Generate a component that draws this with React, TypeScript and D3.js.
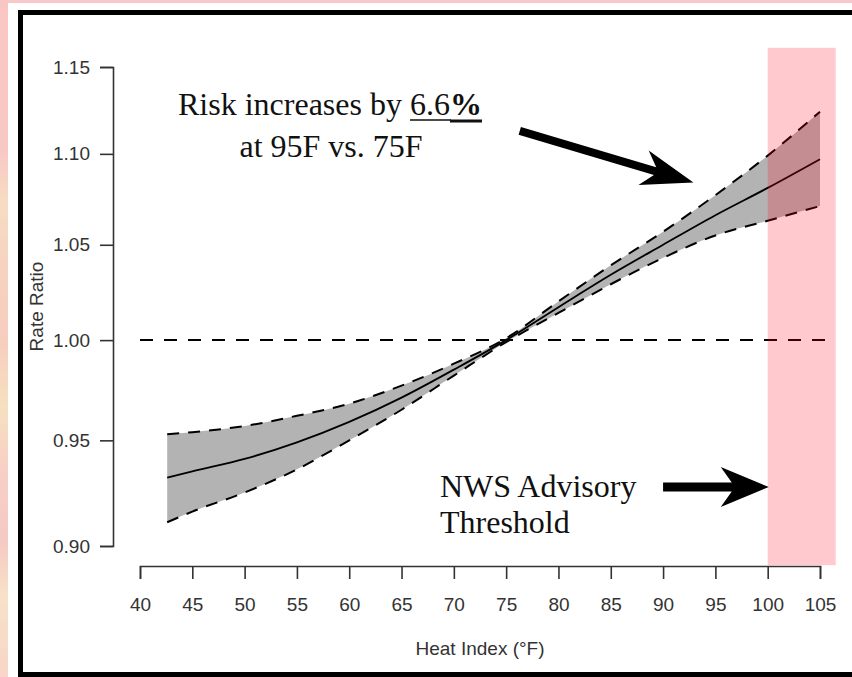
import { useEffect, useRef } from 'react';
import * as d3 from 'd3';

// values (rate ratio on a log axis)
const heatIndex = [42.6, 45, 50, 55, 60, 65, 70, 75, 80, 85, 90, 95, 100, 105];
const rateRatio = [0.932, 0.935, 0.941, 0.949, 0.959, 0.971, 0.985, 1.0, 1.017, 1.034, 1.05, 1.066, 1.081, 1.097];
const upperCI = [0.953, 0.954, 0.957, 0.962, 0.968, 0.977, 0.988, 1.001, 1.02, 1.039, 1.057, 1.077, 1.099, 1.124];
const lowerCI = [0.911, 0.916, 0.925, 0.936, 0.95, 0.965, 0.982, 0.999, 1.014, 1.029, 1.043, 1.055, 1.063, 1.071];

const xTicks = [40, 45, 50, 55, 60, 65, 70, 75, 80, 85, 90, 95, 100, 105];
const yTicks = [0.9, 0.95, 1.0, 1.05, 1.1, 1.15];
const advisoryStart = 100;
const advisoryEnd = 106.5;
const refLine = { value: 1.0, from: 40, to: 106 };

const sans = 'Liberation Sans, Arial, Helvetica, sans-serif';
const serif = 'Liberation Serif, Times New Roman, serif';

function arrowPath(x0, y0, x1, y1, w, h, hw, notch) {
  const len = Math.hypot(x1 - x0, y1 - y0);
  const ux = (x1 - x0) / len;
  const uy = (y1 - y0) / len;
  const nx = -uy;
  const ny = ux;
  const pt = (a, b) => [x1 + ux * a + nx * b, y1 + uy * a + ny * b];
  const pts = [
    pt(-len, -w), pt(-notch, -w), pt(-h, -hw), pt(0, 0),
    pt(-h, hw), pt(-notch, w), pt(-len, w),
  ];
  return 'M' + pts.map(p => p.join(',')).join('L') + 'Z';
}

export default function App() {
  const svgRef = useRef(null);

  useEffect(() => {
    const width = 852;
    const height = 677;
    const svg = d3.select(svgRef.current);
    svg.selectAll('*').remove();

    // slide background around the figure
    const defs = svg.append('defs');
    const grad = defs.append('linearGradient')
      .attr('id', 'edge')
      .attr('x1', 0).attr('y1', 0).attr('x2', 0).attr('y2', 1);
    [
      [0, '#f9c6c4'], [0.22, '#f8c8c4'], [0.3, '#f7dcc3'], [0.4, '#f6d2c0'],
      [0.5, '#f7cdbf'], [0.6, '#f6e0bf'], [0.7, '#f7cfc6'], [0.8, '#f5c9c4'],
      [0.88, '#f7e2c8'], [1, '#f8d5c8'],
    ].forEach(([o, c]) => grad.append('stop').attr('offset', o).attr('stop-color', c));

    svg.append('rect').attr('width', width).attr('height', height).attr('fill', '#f9c8c8');
    svg.append('rect').attr('width', 8).attr('height', height).attr('fill', 'url(#edge)');
    svg.append('rect').attr('x', 8).attr('y', 3).attr('width', width).attr('height', height).attr('fill', '#fff');
    svg.append('rect')
      .attr('x', 20.5).attr('y', 12.5).attr('width', 900).attr('height', 662)
      .attr('fill', 'none').attr('stroke', '#000').attr('stroke-width', 5);

    const x = d3.scaleLinear().domain([40, 105]).range([140, 820]);
    const y = d3.scaleLog().domain([0.9, 1.15]).range([546, 67]);
    const [yBottom, yTop] = y.range();
    const yPad = (yBottom - yTop) * 0.04;

    const rows = heatIndex.map((h, i) => ({ h, rr: rateRatio[i], lo: lowerCI[i], hi: upperCI[i] }));

    const area = d3.area()
      .x(d => x(d.h))
      .y0(d => y(d.lo))
      .y1(d => y(d.hi))
      .curve(d3.curveMonotoneX);

    const line = key => d3.line()
      .x(d => x(d.h))
      .y(d => y(d[key]))
      .curve(d3.curveMonotoneX);

    svg.append('path').datum(rows).attr('d', area).attr('fill', '#b3b3b3');

    ['hi', 'lo'].forEach(k => {
      svg.append('path').datum(rows)
        .attr('d', line(k))
        .attr('fill', 'none')
        .attr('stroke', '#000')
        .attr('stroke-width', 2)
        .attr('stroke-dasharray', '12,9');
    });

    svg.append('path').datum(rows)
      .attr('d', line('rr'))
      .attr('fill', 'none')
      .attr('stroke', '#000')
      .attr('stroke-width', 1.8);

    svg.append('line')
      .attr('x1', x(refLine.from)).attr('x2', x(refLine.to))
      .attr('y1', y(refLine.value)).attr('y2', y(refLine.value))
      .attr('stroke', '#000')
      .attr('stroke-width', 2)
      .attr('stroke-dasharray', '13,11');

    // advisory shading on top
    svg.append('rect')
      .attr('x', x(advisoryStart))
      .attr('width', x(advisoryEnd) - x(advisoryStart))
      .attr('y', yTop - yPad)
      .attr('height', yBottom - yTop + 2 * yPad)
      .attr('fill', 'rgb(255,0,20)')
      .attr('fill-opacity', 0.21);

    // axes
    const yAxis = svg.append('g')
      .attr('transform', 'translate(113,0)')
      .call(d3.axisLeft(y).tickValues(yTicks).tickFormat(d => d.toFixed(2)).tickSize(13).tickPadding(10));
    const xAxis = svg.append('g')
      .attr('transform', 'translate(0,566)')
      .call(d3.axisBottom(x).tickValues(xTicks).tickFormat(d3.format('d')).tickSize(13).tickPadding(19));

    [yAxis, xAxis].forEach(g => {
      g.selectAll('path, line').attr('stroke', '#333').attr('stroke-width', 1.6);
      g.selectAll('text').attr('fill', '#333').attr('font-size', 19).attr('font-family', sans);
    });

    svg.append('text')
      .attr('x', (x.range()[0] + x.range()[1]) / 2).attr('y', 655)
      .attr('text-anchor', 'middle')
      .attr('font-family', sans).attr('font-size', 19).attr('fill', '#333')
      .text('Heat Index (°F)');

    svg.append('text')
      .attr('transform', `translate(43,${(yBottom + yTop) / 2}) rotate(-90)`)
      .attr('text-anchor', 'middle')
      .attr('font-family', sans).attr('font-size', 19).attr('fill', '#333')
      .text('Rate Ratio');

    // annotations
    const note = svg.append('text')
      .attr('x', 330).attr('y', 115)
      .attr('text-anchor', 'middle')
      .attr('font-family', serif).attr('font-size', 32).attr('fill', '#111');
    note.append('tspan').text('Risk increases by ');
    const numSpan = note.append('tspan').text('6.6');
    const pctSpan = note.append('tspan').attr('font-weight', 'bold').text('%');

    // underline: thin under the number, heavier and a bit lower under the %
    const numBox = numSpan.node().getBBox();
    const pctBox = pctSpan.node().getBBox();
    svg.append('line')
      .attr('x1', numBox.x).attr('x2', pctBox.x + 1)
      .attr('y1', 120).attr('y2', 120)
      .attr('stroke', '#111').attr('stroke-width', 1.5);
    svg.append('line')
      .attr('x1', pctBox.x).attr('x2', pctBox.x + pctBox.width)
      .attr('y1', 121).attr('y2', 121)
      .attr('stroke', '#111').attr('stroke-width', 3);

    svg.append('text')
      .attr('x', 331).attr('y', 157)
      .attr('text-anchor', 'middle')
      .attr('font-family', serif).attr('font-size', 32).attr('fill', '#111')
      .text('at 95F vs. 75F');

    const nws = svg.append('text')
      .attr('font-family', serif).attr('font-size', 32).attr('fill', '#111');
    nws.append('tspan').attr('x', 440).attr('y', 497).text('NWS Advisory');
    nws.append('tspan').attr('x', 440).attr('y', 533).text('Threshold');

    svg.append('path')
      .attr('d', arrowPath(x(76.3), y(1.113), x(92.9), y(1.084), 4, 52, 18, 40))
      .attr('fill', '#000');
    svg.append('path')
      .attr('d', arrowPath(x(90.0), y(0.9276), x(100.1), y(0.9276), 4.5, 48, 20, 37))
      .attr('fill', '#000');
  }, []);

  return (
    <svg
      ref={svgRef}
      width={852}
      height={677}
      style={{ position: 'absolute', left: 0, top: 0, display: 'block' }}
    />
  );
}
